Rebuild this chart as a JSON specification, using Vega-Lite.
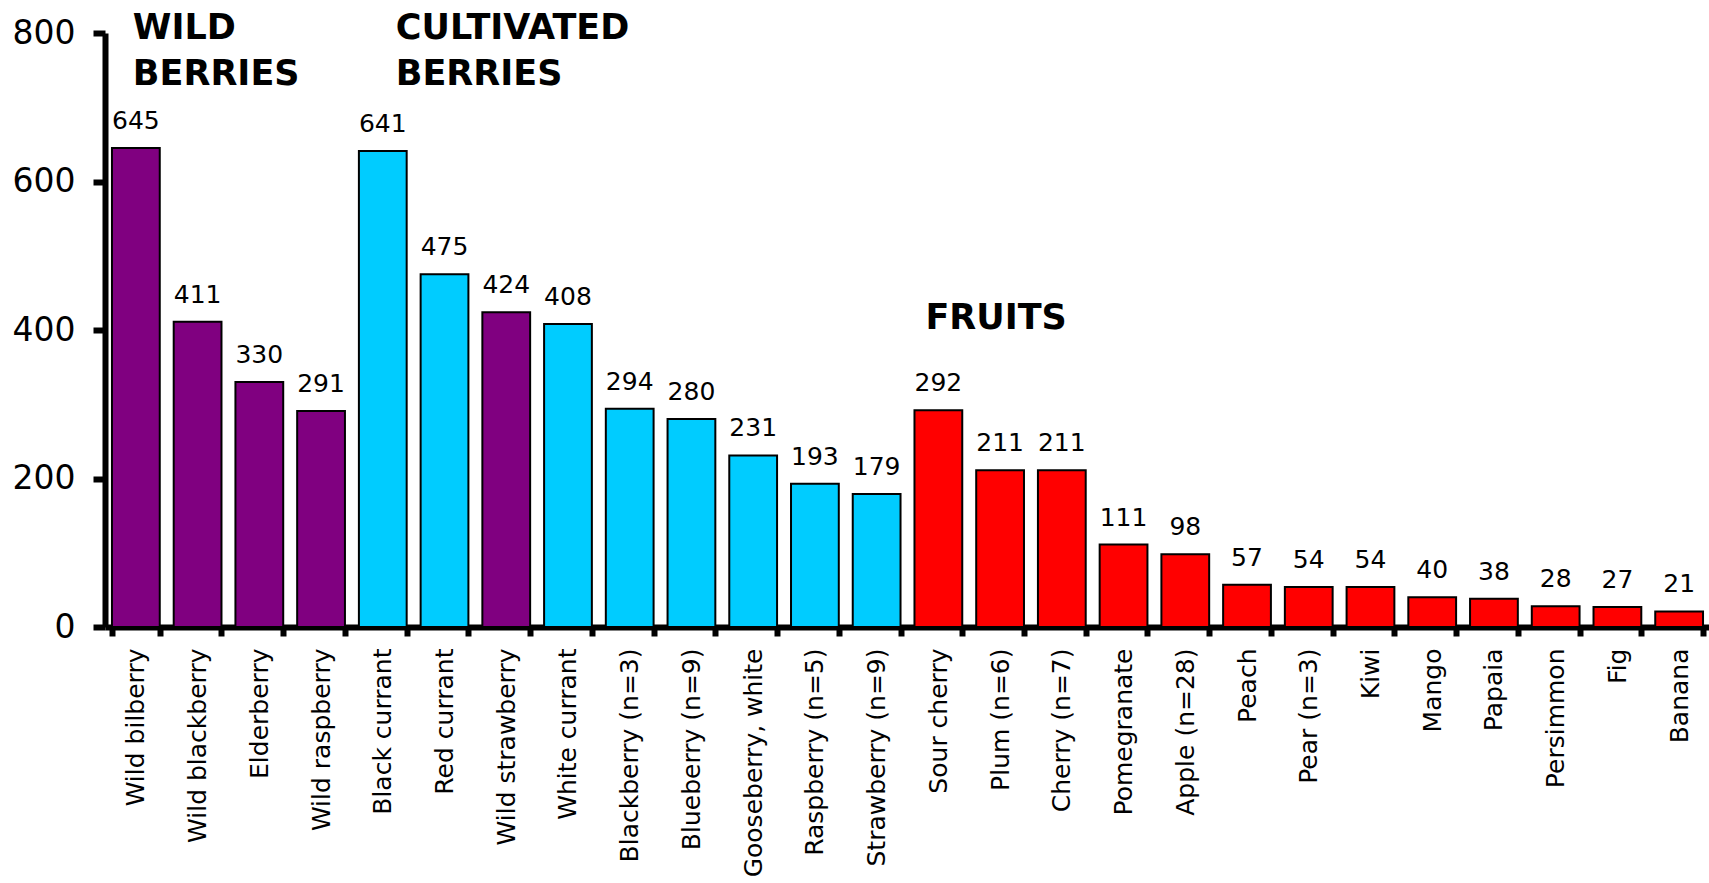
{
  "$schema": "https://vega.github.io/schema/vega-lite/v6.json",
  "autosize": {"type": "none"},
  "padding": {"left": 105, "top": 33, "right": 0, "bottom": 256},
  "width": 1605,
  "height": 594,
  "background": "white",
  "config": {"view": {"stroke": null}, "font": "DejaVu Sans"},
  "datasets": {
    "fruits": [
      {"name": "Wild bilberry", "value": 645, "group": "wild"},
      {"name": "Wild blackberry", "value": 411, "group": "wild"},
      {"name": "Elderberry", "value": 330, "group": "wild"},
      {"name": "Wild raspberry", "value": 291, "group": "wild"},
      {"name": "Black currant", "value": 641, "group": "cultivated"},
      {"name": "Red currant", "value": 475, "group": "cultivated"},
      {"name": "Wild strawberry", "value": 424, "group": "wild"},
      {"name": "White currant", "value": 408, "group": "cultivated"},
      {"name": "Blackberry (n=3)", "value": 294, "group": "cultivated"},
      {"name": "Blueberry (n=9)", "value": 280, "group": "cultivated"},
      {"name": "Gooseberry, white", "value": 231, "group": "cultivated"},
      {"name": "Raspberry (n=5)", "value": 193, "group": "cultivated"},
      {"name": "Strawberry (n=9)", "value": 179, "group": "cultivated"},
      {"name": "Sour cherry", "value": 292, "group": "fruit"},
      {"name": "Plum (n=6)", "value": 211, "group": "fruit"},
      {"name": "Cherry (n=7)", "value": 211, "group": "fruit"},
      {"name": "Pomegranate", "value": 111, "group": "fruit"},
      {"name": "Apple (n=28)", "value": 98, "group": "fruit"},
      {"name": "Peach", "value": 57, "group": "fruit"},
      {"name": "Pear (n=3)", "value": 54, "group": "fruit"},
      {"name": "Kiwi", "value": 54, "group": "fruit"},
      {"name": "Mango", "value": 40, "group": "fruit"},
      {"name": "Papaia", "value": 38, "group": "fruit"},
      {"name": "Persimmon", "value": 28, "group": "fruit"},
      {"name": "Fig", "value": 27, "group": "fruit"},
      {"name": "Banana", "value": 21, "group": "fruit"}
    ]
  },
  "data": {"name": "fruits"},
  "layer": [
    {
      "mark": {"type": "bar", "stroke": "black", "strokeWidth": 2},
      "encoding": {
        "x": {
          "field": "name", "type": "nominal", "sort": null,
          "scale": {"paddingInner": 0.226, "paddingOuter": 0.113},
          "axis": {
            "title": null, "labelAngle": -90, "labelAlign": "right", "labelBaseline": "middle",
            "labelFontSize": 25, "labelColor": "black", "labelPadding": 12, "labelFont": "DejaVu Sans",
            "tickBand": "extent", "tickSize": 9, "tickWidth": 6, "tickColor": "black",
            "domainWidth": 6, "domainColor": "black", "labelOverlap": false, "labelLimit": 400
          }
        },
        "y": {
          "field": "value", "type": "quantitative",
          "scale": {"domain": [0, 800], "nice": false},
          "axis": {
            "title": null, "values": [0, 200, 400, 600, 800], "grid": false,
            "labelFontSize": 33, "labelColor": "black", "labelPadding": 18, "labelFont": "DejaVu Sans",
            "tickSize": 12, "tickWidth": 6, "tickColor": "black",
            "domainWidth": 6, "domainColor": "black"
          }
        },
        "color": {
          "field": "group", "type": "nominal", "legend": null,
          "scale": {"domain": ["wild", "cultivated", "fruit"], "range": ["#800080", "#00CCFF", "#FF0000"]}
        }
      }
    },
    {
      "mark": {"type": "text", "fontSize": 25, "baseline": "alphabetic", "dy": -19, "color": "black", "font": "DejaVu Sans"},
      "encoding": {
        "x": {"field": "name", "type": "nominal", "sort": null},
        "y": {"field": "value", "type": "quantitative"},
        "text": {"field": "value", "type": "quantitative"}
      }
    },
    {
      "data": {"values": [{"name": "Wild bilberry", "pos": 830, "label": "WILD\nBERRIES"}]},
      "mark": {"type": "text", "fontSize": 35, "fontWeight": "bold", "align": "left", "baseline": "top", "dx": -3, "lineBreak": "\n", "lineHeight": 46, "color": "black", "font": "DejaVu Sans"},
      "encoding": {
        "x": {"field": "name", "type": "nominal", "sort": null},
        "y": {"field": "pos", "type": "quantitative"},
        "text": {"field": "label"}
      }
    },
    {
      "data": {"values": [{"name": "Black currant", "pos": 830, "label": "CULTIVATED\nBERRIES"}]},
      "mark": {"type": "text", "fontSize": 35, "fontWeight": "bold", "align": "left", "baseline": "top", "dx": 13, "lineBreak": "\n", "lineHeight": 46, "color": "black", "font": "DejaVu Sans"},
      "encoding": {
        "x": {"field": "name", "type": "nominal", "sort": null},
        "y": {"field": "pos", "type": "quantitative"},
        "text": {"field": "label"}
      }
    },
    {
      "data": {"values": [{"name": "Plum (n=6)", "pos": 439, "label": "FRUITS"}]},
      "mark": {"type": "text", "fontSize": 35, "fontWeight": "bold", "align": "center", "baseline": "top", "dx": -4, "color": "black", "font": "DejaVu Sans"},
      "encoding": {
        "x": {"field": "name", "type": "nominal", "sort": null},
        "y": {"field": "pos", "type": "quantitative"},
        "text": {"field": "label"}
      }
    }
  ]
}
